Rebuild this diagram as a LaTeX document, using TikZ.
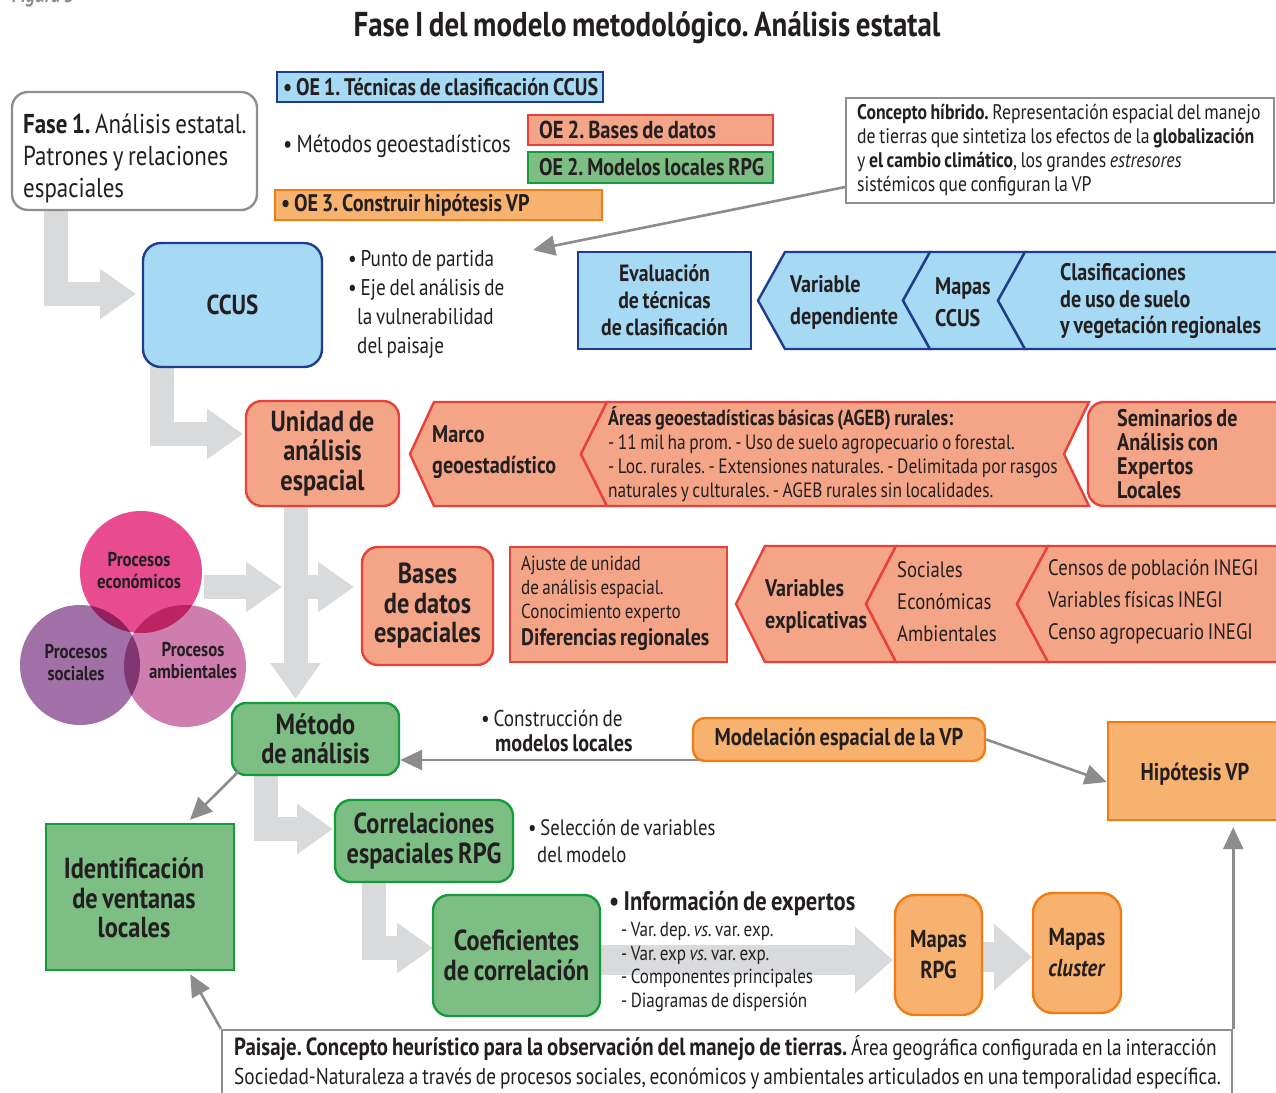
\documentclass[tikz,border=0pt]{standalone}
\usepackage{fontspec}
\setmainfont{PT Sans}[FakeStretch=0.84, WordSpace=0.75]
\frenchspacing
\usetikzlibrary{arrows.meta,calc}
\definecolor{ink}{HTML}{231F20}
\definecolor{lblue}{HTML}{A6DAF4}
\definecolor{bblue}{HTML}{1F3C8E}
\definecolor{salmon}{HTML}{F4A587}
\definecolor{rred}{HTML}{E8403A}
\definecolor{lgreen}{HTML}{7DBE85}
\definecolor{dgreen}{HTML}{169A3E}
\definecolor{lorange}{HTML}{F8B26F}
\definecolor{dorange}{HTML}{EF7D14}
\definecolor{fatgray}{HTML}{D9DADB}
\definecolor{lngray}{HTML}{8C8C8C}
\definecolor{boxgray}{HTML}{8E8E8E}
\definecolor{ceco}{HTML}{E84C8F}
\definecolor{csoc}{HTML}{A070A7}
\definecolor{camb}{HTML}{CF7CAE}
\newcommand\myfs[2]{\fontsize{#1}{#2}\selectfont}
\tikzset{
  bluebox/.style={draw=bblue, fill=lblue, line width=2.4pt},
  redbox/.style={draw=rred, fill=salmon, line width=2.4pt},
  greenbox/.style={draw=dgreen, fill=lgreen, line width=2.4pt},
  orangebox/.style={draw=dorange, fill=lorange, line width=2.4pt},
  graybox/.style={draw=boxgray, line width=2.4pt},
  fatarrow/.style={draw=fatgray, line width=24pt, line join=miter, -{Triangle[length=36pt,width=48pt]}},
  fatarrowb/.style={draw=fatgray, line width=30pt, -{Triangle[length=38pt,width=64pt]}},
  thinarrow/.style={draw=lngray, line width=2.6pt, -{Triangle[length=22pt,width=20pt]}},
  chev/.style={line width=2.4pt, line join=miter},
  lbl/.style={anchor=west, align=flush left},
  big/.style={font=\myfs{29}{29.5}\bfseries, align=center},
  reg/.style={font=\myfs{22.3}{32}},
  oetext/.style={anchor=west, font=\myfs{24}{25}\bfseries},
}
\begin{document}
\begin{tikzpicture}[x=1pt,y=-1pt, every node/.style={text=ink, inner sep=0pt}]
\useasboundingbox (0,0) rectangle (1276,1092);
\fill[white] (0,0) rectangle (1276,1092);

% partial caption at top
\node[anchor=west, text=boxgray, font=\myfs{22}{24}\bfseries\itshape] (fig) at (12,-3) {Figura 3};

% title
\node[font=\myfs{34.5}{36}\bfseries] (title) at (647,28) {Fase I del modelo metodológico. Análisis estatal};

% ---------- fat gray arrows ----------
\coordinate (t1) at (136,294);
\coordinate (t2) at (243,434);
\draw[fatarrow] (56,209) |- (t1);
\draw[fatarrow] (162,366) |- (t2);
\draw[fatarrow] (295.5,505) -- (295.5,699);
\draw[fatarrow] (204,587) -- (282,587);
\draw[fatarrow] (290,587) -- (354,587);
\draw[fatarrow] (266,774) |- (333,829);
\draw[fatarrow] (374,880) |- (433,948);
\draw[fatarrowb] (598,960) -- (893,960);
\draw[fatarrowb] (980,957) -- (1032,957);

% ---------- top ----------
\node[graybox, rounded corners=16pt, minimum width=245pt, minimum height=118pt] (fase) at (134.5,151) {};
\node[lbl, font=\myfs{27.3}{32}] (fasetxt) at (23,158)
      {\textbf{Fase 1.} Análisis estatal.\\Patrones y relaciones\\espaciales};

\node[bluebox, line width=2pt, minimum width=326pt, minimum height=30pt] (oe1) at (440,87) {};
\node[oetext] (oe1txt) at (283,87) {• OE 1. Técnicas de clasificación CCUS};
\node[lbl, font=\myfs{24.5}{27}] (metodos) at (283,146) {• Métodos geoestadísticos};
\node[redbox, line width=2pt, minimum width=245pt, minimum height=30pt] (oe2a) at (650.5,130) {};
\node[oetext, font=\myfs{24.5}{25}\bfseries] (oe2atxt) at (539,130) {OE 2. Bases de datos};
\node[greenbox, line width=2pt, minimum width=245pt, minimum height=31pt] (oe2b) at (650.5,167.5) {};
\node[oetext] (oe2btxt) at (539,167.5) {OE 2. Modelos locales RPG};
\node[orangebox, line width=2pt, minimum width=327pt, minimum height=30pt] (oe3) at (438.5,205) {};
\node[oetext] (oe3txt) at (281,205) {• OE 3. Construir hipótesis VP};

\node[graybox, line width=2pt, minimum width=428pt, minimum height=105pt] (concepto) at (1060,150.5) {};
\node[lbl, font=\myfs{21.1}{24}] (conceptotxt) at (857,150.5)
      {\textbf{Concepto híbrido.} Representación espacial del manejo\\de tierras que sintetiza los efectos de la \textbf{globalización}\\y \textbf{el cambio climático}, los grandes \textit{estresores}\\sistémicos que configuran la VP};
\coordinate (cptip) at (533,250);
\draw[thinarrow] ($(concepto.south west)+(0,-17)$) -- (cptip);

% ---------- CCUS row ----------
\node[bluebox, rounded corners=18pt, minimum width=179pt, minimum height=124pt,
      font=\myfs{27.5}{30}\bfseries] (ccus) at (232.5,305) {CCUS};
\node[anchor=north west, align=flush left, font=\myfs{22.8}{29}] (punto) at (348,250)
      {• Punto de partida\\• Eje del análisis de\\\hspace*{9pt}la vulnerabilidad\\\hspace*{9pt}del paisaje};

\node[bluebox, minimum width=173pt, minimum height=97pt, align=center, font=\myfs{23.5}{27}\bfseries]
      (eval) at (664.5,300.5) {Evaluación\\de técnicas\\de clasificación};
\filldraw[chev, draw=bblue, fill=lblue] (758,300.5) -- (785,252) -- (930,252) -- (903,300.5) -- (930,349) -- (785,349) -- cycle;
\filldraw[chev, draw=bblue, fill=lblue] (903,300.5) -- (930,252) -- (1025,252) -- (998,300.5) -- (1025,349) -- (930,349) -- cycle;
\filldraw[chev, draw=bblue, fill=lblue] (998,300.5) -- (1025,252) -- (1295,252) -- (1295,349) -- (1025,349) -- cycle;
\node[lbl, font=\myfs{24}{32}\bfseries] (vardep) at (790,302) {Variable\\dependiente};
\node[lbl, font=\myfs{24}{32}\bfseries] (mapasccus) at (935,302) {Mapas\\CCUS};
\node[lbl, font=\myfs{24}{26.5}\bfseries] (clasif) at (1060,301) {Clasificaciones\\de uso de suelo\\y vegetación regionales};

% ---------- Unidad row ----------
\node[redbox, rounded corners=16pt, minimum width=153pt, minimum height=105pt, big]
      (unidad) at (322.5,453.5) {Unidad de\\análisis\\espacial};
\filldraw[chev, draw=rred, fill=salmon] (410,454) -- (434,402) -- (607,402) -- (581,454) -- (607,506) -- (434,506) -- cycle;
\filldraw[chev, draw=rred, fill=salmon] (581,454) -- (607,402) -- (1089,402) -- (1064,454) -- (1089,506) -- (607,506) -- cycle;
\node[lbl, font=\myfs{24}{31}\bfseries] (marco) at (432,452) {Marco\\geoestadístico};
\node[lbl, font=\myfs{20.7}{24}] (ageb) at (608,454)
      {{\myfs{21.7}{24}\bfseries Áreas geoestadísticas básicas (AGEB) rurales:}\\- 11 mil ha prom. - Uso de suelo agropecuario o forestal.\\- Loc. rurales. - Extensiones naturales. - Delimitada por rasgos\\naturales y culturales. - AGEB rurales sin localidades.};
\node[redbox, rounded corners=16pt, minimum width=210pt, minimum height=104pt] (seminarios) at (1193,454) {};
\node[lbl, font=\myfs{24}{24}\bfseries] (seminariostxt) at (1117,454) {Seminarios de\\Análisis con\\Expertos\\Locales};

% ---------- circles ----------
\begin{scope}[blend group=multiply]
\fill[ceco] (141,572) circle (61pt);
\fill[csoc] (80,665) circle (60pt);
\fill[camb] (185,666) circle (61pt);
\end{scope}
\node[font=\myfs{20}{22}\bfseries, align=center] (peco) at (139,571) {Procesos\\económicos};
\node[font=\myfs{20}{22}\bfseries, align=center] (psoc) at (76,663) {Procesos\\sociales};
\node[font=\myfs{20}{22}\bfseries, align=center] (pamb) at (193,661) {Procesos\\ambientales};

% ---------- Bases row ----------
\node[redbox, rounded corners=16pt, minimum width=131pt, minimum height=118pt, big]
      (bases) at (427.5,606) {Bases\\de datos\\espaciales};
\node[redbox, minimum width=217pt, minimum height=115pt] (ajuste) at (618.5,604.5) {};
\node[lbl, font=\myfs{20.3}{24}] (ajustetxt) at (521,603)
      {Ajuste de unidad\\de análisis espacial.\\Conocimiento experto\\[3pt]{\myfs{23.8}{24}\bfseries Diferencias regionales}};
\filldraw[chev, draw=rred, fill=salmon] (736,604) -- (765,546) -- (896,546) -- (866,604) -- (896,662) -- (765,662) -- cycle;
\filldraw[chev, draw=rred, fill=salmon] (866,604) -- (896,546) -- (1048,546) -- (1017,604) -- (1048,662) -- (896,662) -- cycle;
\filldraw[chev, draw=rred, fill=salmon] (1017,604) -- (1048,546) -- (1295,546) -- (1295,662) -- (1048,662) -- cycle;
\node[lbl, font=\myfs{24}{32}\bfseries] (varexp) at (765,606) {Variables\\explicativas};
\node[lbl, reg] (sociales) at (897,602) {Sociales\\Económicas\\Ambientales};
\node[lbl, reg] (censos) at (1048,602) {Censos de población INEGI\\Variables físicas INEGI\\Censo agropecuario INEGI};

% ---------- green / orange section ----------
\node[greenbox, rounded corners=14pt, minimum width=167pt, minimum height=72pt, big]
      (metodo) at (315.5,739) {Método\\de análisis};
\node[anchor=west, font=\myfs{22.8}{25}] (construccion) at (481,718) {• Construcción de};
\node[anchor=west, font=\myfs{24}{25}\bfseries] (modloc) at (495,743) {modelos locales};
\draw[thinarrow] ($(metodo.east)+(320,21)$) -- ($(metodo.east)+(0,21)$);
\node[orangebox, rounded corners=12pt, minimum width=292pt, minimum height=43pt, font=\myfs{24.3}{25}\bfseries]
      (model) at (839,739.5) {Modelación espacial de la VP};
\node[orangebox, minimum width=174pt, minimum height=98pt] (hipo) at (1195,771) {};
\node[font=\myfs{24.3}{25}\bfseries] (hipotxt) at (1195,774) {Hipótesis VP};
\draw[thinarrow] (model.east) -- ($(hipo.west)+(0,11)$);

\node[greenbox, minimum width=188pt, minimum height=146pt] (ident) at (140,897) {};
\node[big] (identtxt) at (134,898) {Identificación\\de ventanas\\locales};
\draw[thinarrow] ($(metodo.south west)+(8,-5)$) -- ($(ident.north)+(50,-3)$);

\node[greenbox, rounded corners=16pt, minimum width=178pt, minimum height=82pt, big]
      (correl) at (424,841) {Correlaciones\\espaciales RPG};
\node[anchor=north west, align=flush left, font=\myfs{22.3}{27}] (seleccion) at (528,819)
      {• Selección de variables\\\hspace*{9pt}del modelo};

\node[greenbox, rounded corners=16pt, minimum width=167pt, minimum height=121pt, big]
      (coef) at (516.5,955.5) {Coeficientes\\de correlación};
\node[anchor=west, font=\myfs{26.8}{28}\bfseries] (infoexp) at (609,904) {• Información de expertos};
\node[anchor=north west, align=flush left, font=\myfs{20.3}{23.7}] (lista) at (621,922)
      {- Var. dep. \textit{vs.} var. exp.\\- Var. exp \textit{vs.} var. exp.\\- Componentes principales\\- Diagramas de dispersión};

\node[orangebox, rounded corners=20pt, minimum width=87pt, minimum height=120pt, font=\myfs{24.5}{31}\bfseries, align=center]
      (mrpg) at (938.5,955) {Mapas\\RPG};
\node[orangebox, rounded corners=20pt, minimum width=88pt, minimum height=120pt, font=\myfs{24.5}{31}\bfseries, align=center]
      (mclus) at (1077,953) {Mapas\\\textit{cluster}};

% ---------- bottom box ----------
\node[graybox, minimum width=1010pt, minimum height=65pt] (paisaje) at (727,1062.5) {};
\node[lbl, font=\myfs{23}{29}] (paisajetxt) at (234,1062.5)
      {{\myfs{24.8}{29}\bfseries Paisaje. Concepto heurístico para la observación del manejo de tierras.} Área geográfica configurada en la interacción\\Sociedad-Naturaleza a través de procesos sociales, económicos y ambientales articulados en una temporalidad específica.};
\draw[thinarrow] (paisaje.north west) -- ($(ident.south east)+(-45,3)$);
\draw[thinarrow] (paisaje.north east) -- ($(paisaje.north east |- hipo.south)+(0,6)$);
\end{tikzpicture}
\end{document}
